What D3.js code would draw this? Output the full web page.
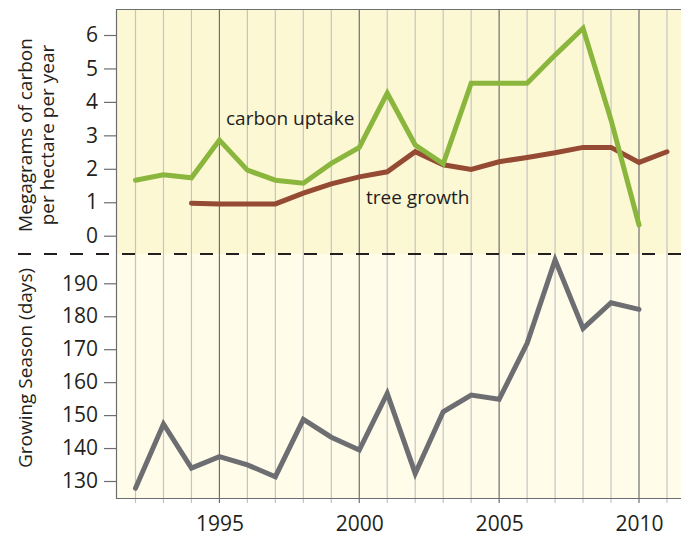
<!DOCTYPE html>
<html>
<head>
<meta charset="utf-8">
<script src="https://cdnjs.cloudflare.com/ajax/libs/d3/7.8.5/d3.min.js"></script>
<style>
  body { margin: 0; background: #fff; }
  svg { display: block; }
  text { font-family: "Open Sans", sans-serif; fill: #231f20; }
</style>
</head>
<body>
<script>
// data
var years = [1992, 1993, 1994, 1995, 1996, 1997, 1998, 1999, 2000, 2001,
             2002, 2003, 2004, 2005, 2006, 2007, 2008, 2009, 2010, 2011];
var carbonUptake = [1.66, 1.82, 1.73, 2.86, 1.96, 1.66, 1.57, 2.16, 2.64, 4.26,
                    2.71, 2.15, 4.56, 4.56, 4.56, 5.40, 6.20, 3.46, 0.32, null];
var treeGrowth = [null, null, 0.97, 0.95, 0.95, 0.95, 1.27, 1.55, 1.76, 1.91,
                  2.51, 2.12, 1.98, 2.21, 2.34, 2.48, 2.64, 2.64, 2.19, 2.51];
var growingSeason = [127.8, 147.3, 133.9, 137.4, 134.9, 131.3, 148.7, 143.3, 139.4, 156.6,
                     132.3, 151.0, 156.1, 154.8, 171.8, 197.1, 176.3, 184.1, 182.1, null];
var carbonTicks = [0, 1, 2, 3, 4, 5, 6];
var seasonTicks = [130, 140, 150, 160, 170, 180, 190];
var yearLabels = [1995, 2000, 2005, 2010];

var w = 681;
var h = 539;
// plot frame edges (named pl/pr/pt/pb, "top" is taken by window.top)
var pl = 116, pr = 681, pt = 9, split = 254, pb = 498;

var svg = d3.select("body")
            .append("svg")
            .attr("width", w)
            .attr("height", h);

// scales
var x = d3.scaleLinear().domain([1992, 2010]).range([135.5, 639]);
var yTop = d3.scaleLinear().domain([0, 6]).range([235.7, 35]);
var yBot = d3.scaleLinear().domain([130, 190]).range([481, 283.3]);

// panel backgrounds
svg.append("rect")
   .attr("x", pl).attr("y", pt)
   .attr("width", pr - pl).attr("height", split - pt)
   .attr("fill", "#fdf8d4");
svg.append("rect")
   .attr("x", pl).attr("y", split)
   .attr("width", pr - pl).attr("height", pb - split)
   .attr("fill", "#fffcea");

// year gridlines (darker every 5 years), running a little below the frame
svg.selectAll("line.grid")
   .data(years)
   .enter()
   .append("line")
   .attr("class", "grid")
   .attr("x1", function(d){ return x(d); })
   .attr("x2", function(d){ return x(d); })
   .attr("y1", pt)
   .attr("y2", pb + 5)
   .attr("stroke", function(d){ return d % 5 == 0 ? "#6d6e71" : "#c4c4c4"; })
   .attr("stroke-width", 1.2);

// frame: top, left and bottom edges
svg.append("path")
   .attr("d", "M" + pr + "," + (pt + 0.5) + "H" + (pl + 0.5) + "V" + (pb + 0.5) + "H" + pr)
   .attr("fill", "none")
   .attr("stroke", "#6d6e71")
   .attr("stroke-width", 1.2);

// dashed divider between the panels
svg.append("line")
   .attr("x1", 18).attr("x2", pr)
   .attr("y1", split).attr("y2", split)
   .attr("stroke", "#231f20")
   .attr("stroke-width", 2.2)
   .attr("stroke-dasharray", "13,13");

// y axes
svg.append("g")
   .attr("transform", "translate(" + pl + ",0)")
   .call(d3.axisLeft(yTop).tickValues(carbonTicks).tickFormat(d3.format("d")).tickSize(12).tickPadding(6));
svg.append("g")
   .attr("transform", "translate(" + pl + ",0)")
   .call(d3.axisLeft(yBot).tickValues(seasonTicks).tickFormat(d3.format("d")).tickSize(12).tickPadding(6));
svg.selectAll(".domain").remove();
svg.selectAll(".tick line").attr("stroke", "#6d6e71").attr("stroke-width", 1.2);
svg.selectAll(".tick text")
   .attr("font-size", "21px")
   .attr("font-family", "Open Sans, sans-serif")
   .attr("fill", "#231f20");

// x axis labels
var axisX = svg.append("g")
   .attr("transform", "translate(0," + pb + ")")
   .call(d3.axisBottom(x).tickValues(yearLabels).tickFormat(d3.format("d")).tickSize(0).tickPadding(18));
axisX.select(".domain").remove();
axisX.selectAll("text")
   .attr("font-size", "21px")
   .attr("font-family", "Open Sans, sans-serif")
   .attr("fill", "#231f20");

// lines
var lineTop = d3.line()
   .defined(function(d){ return d[1] != null; })
   .x(function(d){ return x(d[0]); })
   .y(function(d){ return yTop(d[1]); });
var lineBot = d3.line()
   .defined(function(d){ return d[1] != null; })
   .x(function(d){ return x(d[0]); })
   .y(function(d){ return yBot(d[1]); });

function pairs(vals) {
  return years.map(function(y, i){ return [y, vals[i]]; });
}

svg.append("path")
   .attr("d", lineTop(pairs(treeGrowth)))
   .attr("fill", "none")
   .attr("stroke", "#944a33")
   .attr("stroke-width", 5)
   .attr("stroke-linejoin", "miter")
   .attr("stroke-linecap", "round");
svg.append("path")
   .attr("d", lineTop(pairs(carbonUptake)))
   .attr("fill", "none")
   .attr("stroke", "#8ab63e")
   .attr("stroke-width", 5)
   .attr("stroke-linejoin", "miter")
   .attr("stroke-linecap", "round");
svg.append("path")
   .attr("d", lineBot(pairs(growingSeason)))
   .attr("fill", "none")
   .attr("stroke", "#6d6e71")
   .attr("stroke-width", 5)
   .attr("stroke-linejoin", "miter")
   .attr("stroke-linecap", "round");

// series labels
svg.append("text")
   .attr("x", 226).attr("y", 125)
   .attr("font-size", "19px")
   .text("carbon uptake");
svg.append("text")
   .attr("x", 366).attr("y", 204)
   .attr("font-size", "19px")
   .text("tree growth");

// y axis titles
svg.append("text")
   .attr("transform", "translate(32,135) rotate(-90)")
   .attr("text-anchor", "middle")
   .attr("font-size", "19px")
   .text("Megagrams of carbon");
svg.append("text")
   .attr("transform", "translate(54,135) rotate(-90)")
   .attr("text-anchor", "middle")
   .attr("font-size", "19px")
   .text("per hectare per year");
svg.append("text")
   .attr("transform", "translate(32,368) rotate(-90)")
   .attr("text-anchor", "middle")
   .attr("font-size", "19px")
   .text("Growing Season (days)");
</script>
</body>
</html>
